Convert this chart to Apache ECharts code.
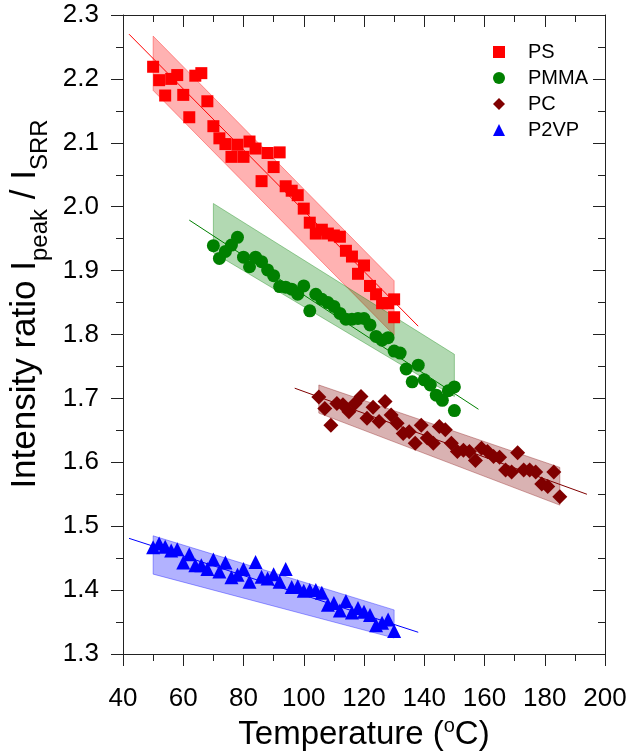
<!DOCTYPE html>
<html>
<head>
<meta charset="utf-8">
<script src="https://cdn.jsdelivr.net/npm/echarts@6/dist/echarts.min.js"></script>
<style>
  html, body { margin: 0; padding: 0; background: #fff; }
  #chart-panel { width: 631px; height: 753px; }
</style>
</head>
<body>
<div id="chart-panel"></div>
<script>
// temperatures (C) and intensity ratios
var psT = [50, 52, 54, 56, 58, 60, 62, 64, 66, 68, 70, 72, 74, 76, 78, 80, 82, 84, 86, 88, 90, 92, 94, 96, 98, 100, 102, 104, 106, 108, 110, 112, 114, 116, 118, 120, 122, 124, 126, 128, 130, 130];
var psR = [2.219, 2.198, 2.174, 2.200, 2.206, 2.175, 2.140, 2.205, 2.209, 2.165, 2.126, 2.107, 2.098, 2.078, 2.097, 2.078, 2.102, 2.091, 2.040, 2.084, 2.062, 2.085, 2.032, 2.025, 2.018, 1.997, 1.975, 1.958, 1.964, 1.958, 1.955, 1.953, 1.931, 1.922, 1.895, 1.908, 1.876, 1.863, 1.849, 1.849, 1.855, 1.827];

var pmT = [70, 72, 74, 76, 78, 80, 82, 84, 86, 88, 90, 92, 94, 96, 98, 100, 102, 104, 106, 108, 110, 112, 114, 116, 118, 120, 122, 124, 126, 128, 130, 132, 134, 136, 138, 140, 142, 144, 146, 148, 150, 150];
var pmR = [1.939, 1.919, 1.930, 1.940, 1.952, 1.921, 1.906, 1.921, 1.914, 1.901, 1.892, 1.875, 1.874, 1.871, 1.863, 1.876, 1.837, 1.863, 1.855, 1.850, 1.844, 1.833, 1.824, 1.824, 1.825, 1.825, 1.815, 1.797, 1.791, 1.795, 1.774, 1.771, 1.746, 1.726, 1.752, 1.729, 1.721, 1.705, 1.697, 1.712, 1.718, 1.681];

var pcT = [105, 107, 109, 111, 113, 115, 117, 119, 121, 123, 125, 127, 129, 131, 133, 135, 137, 139, 141, 143, 145, 147, 149, 151, 153, 155, 157, 159, 161, 163, 165, 167, 169, 171, 173, 175, 177, 179, 181, 183, 185];
var pcR = [1.702, 1.684, 1.658, 1.692, 1.690, 1.679, 1.692, 1.703, 1.669, 1.686, 1.664, 1.695, 1.674, 1.661, 1.645, 1.648, 1.630, 1.658, 1.638, 1.630, 1.656, 1.651, 1.630, 1.617, 1.619, 1.617, 1.603, 1.622, 1.617, 1.609, 1.608, 1.588, 1.585, 1.615, 1.588, 1.588, 1.585, 1.566, 1.562, 1.585, 1.546];

var pvT = [50, 52, 54, 56, 58, 60, 62, 64, 66, 68, 70, 72, 74, 76, 78, 80, 82, 84, 86, 88, 90, 92, 94, 96, 98, 100, 102, 104, 106, 108, 110, 112, 114, 116, 118, 120, 122, 124, 126, 128, 130];
var pvR = [1.467, 1.473, 1.468, 1.462, 1.464, 1.443, 1.456, 1.439, 1.439, 1.433, 1.448, 1.429, 1.443, 1.420, 1.424, 1.433, 1.413, 1.444, 1.421, 1.418, 1.425, 1.413, 1.433, 1.405, 1.406, 1.399, 1.400, 1.400, 1.396, 1.377, 1.380, 1.368, 1.383, 1.365, 1.372, 1.366, 1.361, 1.345, 1.349, 1.354, 1.336];

// linear fit end points
var psFitT = [42, 138], psFitR = [2.270, 1.813];
var pmFitT = [62, 158], pmFitR = [1.979, 1.683];
var pcFitT = [97, 194], pcFitR = [1.716, 1.550];
var pvFitT = [42, 138], pvFitR = [1.481, 1.334];

// shaded bands: [t0, upper0, lower0, t1, upper1, lower1]
var psBand = [50, 2.267, 2.182, 130, 1.884, 1.799];
var pmBand = [70, 2.005, 1.928, 150, 1.769, 1.703];
var pcBand = [105, 1.721, 1.677, 185, 1.592, 1.533];
var pvBand = [50, 1.485, 1.425, 130, 1.369, 1.325];

var names = ['PS', 'PMMA', 'PC', 'P2VP'];
var xTicks = { min: 40, max: 200, interval: 20 };
var yTicks = { min: 1.3, max: 2.3, interval: 0.1 };

var font = 'Liberation Sans, Arial, sans-serif';

function pairs(xs, ys) {
    return xs.map(function (x, i) { return [x, ys[i]]; });
}

function bandSeries(name, band, rgb) {
    return {
        name: name + ' band',
        type: 'custom',
        silent: true,
        dimensions: ['t0', 'hi0', 'lo0', 't1', 'hi1', 'lo1'],
        encode: { x: [0, 3], y: [1, 2, 4, 5] },
        data: [band],
        renderItem: function (params, api) {
            var p1 = api.coord([api.value(0), api.value(1)]);
            var p2 = api.coord([api.value(3), api.value(4)]);
            var p3 = api.coord([api.value(3), api.value(5)]);
            var p4 = api.coord([api.value(0), api.value(2)]);
            return {
                type: 'polygon',
                shape: { points: [p1, p2, p3, p4] },
                style: {
                    fill: 'rgba(' + rgb + ',0.3)',
                    stroke: 'rgba(' + rgb + ',0.35)',
                    lineWidth: 1
                }
            };
        }
    };
}

function fitSeries(name, xs, ys, color) {
    return {
        name: name + ' fit',
        type: 'line',
        silent: true,
        symbol: 'none',
        data: pairs(xs, ys),
        lineStyle: { color: color, width: 1 }
    };
}

function dotSeries(name, xs, ys, color, symbol, size) {
    return {
        name: name,
        type: 'scatter',
        symbol: symbol,
        symbolSize: size,
        data: pairs(xs, ys),
        itemStyle: { color: color, opacity: 1 }
    };
}

var axisLine = { show: true, lineStyle: { color: '#222', width: 1 } };

option = {
    animation: false,
    backgroundColor: '#fff',
    grid: { left: 123, right: 26, top: 15, bottom: 99, outerBoundsMode: 'none' },
    legend: {
        data: names,
        orient: 'vertical',
        left: 488,
        top: 37,
        itemWidth: 12,
        itemHeight: 12,
        itemGap: 6,
        textStyle: { fontFamily: font, fontSize: 20, color: '#000', padding: [0, 0, 0, 18] }
    },
    xAxis: [{
        type: 'value',
        min: xTicks.min,
        max: xTicks.max,
        interval: xTicks.interval,
        position: 'bottom',
        axisLine: axisLine,
        axisTick: { show: true, inside: false, length: 12, lineStyle: { color: '#222' } },
        minorTick: { show: true, splitNumber: 2, length: 7, lineStyle: { color: '#222' } },
        splitLine: { show: false },
        axisLabel: { fontFamily: font, fontSize: 26, color: '#000', margin: 32 },
        name: '{a|Temperature (}{sup|o}{a|C)}',
        nameLocation: 'middle',
        nameGap: 47,
        nameTextStyle: {
            rich: {
                a: { fontFamily: font, fontSize: 33, lineHeight: 36, color: '#000', verticalAlign: 'middle' },
                sup: { fontFamily: font, fontSize: 20, lineHeight: 20, color: '#000', verticalAlign: 'top' }
            }
        }
    }, {
        type: 'value',
        min: xTicks.min,
        max: xTicks.max,
        interval: xTicks.interval,
        position: 'top',
        axisLine: axisLine,
        axisTick: { show: true, inside: true, length: 12, lineStyle: { color: '#222' } },
        minorTick: { show: true, splitNumber: 2, length: 7, lineStyle: { color: '#222' } },
        splitLine: { show: false },
        axisLabel: { show: false }
    }],
    yAxis: [{
        type: 'value',
        min: yTicks.min,
        max: yTicks.max,
        interval: yTicks.interval,
        position: 'left',
        axisLine: axisLine,
        axisTick: { show: true, inside: false, length: 12, lineStyle: { color: '#222' } },
        minorTick: { show: true, splitNumber: 2, length: 7, lineStyle: { color: '#222' } },
        splitLine: { show: false },
        axisLabel: {
            fontFamily: font, fontSize: 26, color: '#000', margin: 24,
            formatter: function (v) { return v.toFixed(1); }
        },
        name: '{a|Intensity ratio I}{s|peak}{a| / I}{s|SRR}',
        nameLocation: 'middle',
        nameGap: 70,
        nameTextStyle: {
            padding: [0, 0, 0, 61],
            rich: {
                a: { fontFamily: font, fontSize: 35, lineHeight: 44, color: '#000', verticalAlign: 'top' },
                s: { fontFamily: font, fontSize: 24, lineHeight: 8, color: '#000', verticalAlign: 'bottom' }
            }
        }
    }, {
        type: 'value',
        min: yTicks.min,
        max: yTicks.max,
        interval: yTicks.interval,
        position: 'right',
        axisLine: axisLine,
        axisTick: { show: true, inside: true, length: 12, lineStyle: { color: '#222' } },
        minorTick: { show: true, splitNumber: 2, length: 7, lineStyle: { color: '#222' } },
        splitLine: { show: false },
        axisLabel: { show: false }
    }],
    series: [
        bandSeries('PS', psBand, '255,0,0'),
        fitSeries('PS', psFitT, psFitR, '#ff0000'),
        dotSeries('PS', psT, psR, '#ff0000', 'rect', 12),

        bandSeries('PMMA', pmBand, '0,128,0'),
        fitSeries('PMMA', pmFitT, pmFitR, '#008000'),
        dotSeries('PMMA', pmT, pmR, '#008000', 'circle', 13),

        bandSeries('PC', pcBand, '128,0,0'),
        fitSeries('PC', pcFitT, pcFitR, '#800000'),
        dotSeries('PC', pcT, pcR, '#800000', 'diamond', 15),

        bandSeries('P2VP', pvBand, '0,0,255'),
        fitSeries('P2VP', pvFitT, pvFitR, '#0000ff'),
        dotSeries('P2VP', pvT, pvR, '#0000ff', 'triangle', 14)
    ]
};

var chart = echarts.init(document.getElementById('chart-panel'));
chart.setOption(option);
</script>
</body>
</html>
